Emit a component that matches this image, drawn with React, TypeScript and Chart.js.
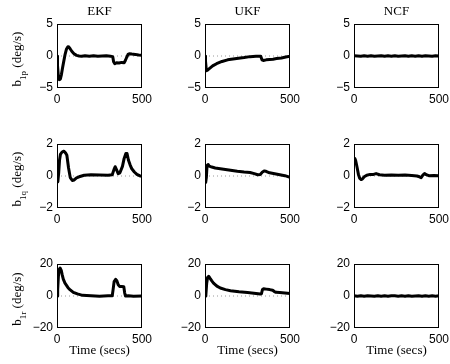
import React, { useEffect, useRef } from "react";
import { Chart, registerables } from "chart.js";

Chart.register(...registerables);

// ---------- data ----------
const filterNames = ["EKF", "UKF", "NCF"];
const biasSubscripts = ["1p", "1q", "1r"];
const yLimits = [5, 2, 20];
const xRange = [0, 500];
const xLabel = "Time (secs)";
const yUnit = " (deg/s)";

// reference (true bias = 0)
const trueT = [0, 500];
const trueV = [0, 0];

// b_1p
const ekfPT = [0, 3, 8, 14, 20, 26, 33, 40, 48, 56, 64, 70, 78, 88, 100, 115, 130, 145, 165, 190, 215, 240, 265, 290, 315, 328, 333, 340, 350, 365, 380, 395, 402, 410, 418, 425, 440, 460, 480, 500];
const ekfPV = [0, -1.5, -3.2, -3.7, -3.6, -2.9, -1.8, -0.8, 0.3, 1.1, 1.45, 1.4, 1.1, 0.7, 0.35, 0.1, 0.0, -0.05, 0.05, -0.05, 0.05, -0.05, 0.0, 0.05, -0.05, -0.1, -0.9, -1.2, -1.05, -1.1, -1.0, -1.05, -0.7, -0.2, 0.25, 0.35, 0.3, 0.25, 0.15, 0.1];
const ukfPT = [0, 3, 8, 15, 29, 45, 68, 100, 133, 186, 230, 265, 300, 328, 335, 343, 360, 380, 400, 421, 450, 475, 500];
const ukfPV = [0, -0.8, -2.3, -2.2, -1.9, -1.55, -1.2, -0.85, -0.6, -0.4, -0.25, -0.1, -0.05, -0.05, -0.6, -0.7, -0.6, -0.55, -0.5, -0.4, -0.3, -0.15, -0.05];
const ncfPT = [0, 20, 40, 60, 80, 100, 120, 140, 160, 180, 200, 220, 240, 260, 280, 300, 320, 340, 360, 380, 400, 420, 440, 460, 480, 500];
const ncfPV = [0.05, 0.0, -0.05, 0.03, -0.03, 0.05, -0.04, 0.0, 0.04, -0.05, 0.03, -0.03, 0.05, -0.03, 0.0, 0.04, -0.05, 0.03, -0.03, 0.05, -0.04, 0.03, 0.0, -0.05, 0.03, 0.0];

// b_1q
const ekfQT = [0, 5, 10, 15, 20, 30, 40, 50, 58, 68, 78, 90, 100, 115, 130, 160, 200, 250, 300, 325, 335, 342, 350, 360, 370, 385, 395, 405, 412, 420, 430, 440, 455, 470, 485, 500];
const ekfQV = [-0.3, -0.35, 0.2, 1.0, 1.35, 1.5, 1.55, 1.45, 1.3, 0.5, -0.1, -0.28, -0.25, -0.12, -0.05, 0.05, 0.08, 0.07, 0.05, 0.08, 0.4, 0.58, 0.4, 0.15, 0.2, 0.6, 1.1, 1.4, 1.4, 1.0, 0.7, 0.45, 0.25, 0.1, 0.02, -0.02];
const ukfQT = [0, 4, 8, 12, 18, 25, 40, 60, 80, 110, 150, 190, 230, 265, 290, 310, 325, 338, 350, 362, 380, 410, 440, 470, 500];
const ukfQV = [-0.2, -0.4, -0.1, 0.65, 0.72, 0.62, 0.56, 0.5, 0.47, 0.42, 0.36, 0.3, 0.25, 0.22, 0.15, 0.08, 0.1, 0.25, 0.32, 0.28, 0.2, 0.14, 0.08, 0.02, -0.08];
const ncfQT = [0, 5, 10, 18, 26, 34, 42, 50, 60, 75, 95, 115, 130, 150, 180, 220, 260, 300, 340, 370, 385, 395, 405, 415, 425, 440, 470, 500];
const ncfQV = [1.0, 1.1, 0.95, 0.55, 0.1, -0.15, -0.22, -0.18, -0.05, 0.05, 0.1, 0.1, 0.15, 0.08, 0.05, 0.07, 0.04, 0.06, 0.03, 0.0, -0.05, -0.1, 0.05, 0.15, 0.08, 0.02, 0.03, 0.02];

// b_1r
const ekfRT = [0, 4, 8, 12, 18, 25, 30, 37, 47, 57, 66, 76, 96, 120, 150, 200, 250, 300, 325, 330, 336, 345, 352, 360, 368, 380, 393, 398, 403, 420, 450, 500];
const ekfRV = [0, 4, 12, 16.5, 17.5, 16, 13.5, 10.5, 8, 6.5, 5, 4, 2.3, 1.3, 0.4, 0.2, -0.2, 0.1, 0.2, 4, 9, 10.4, 9.5, 7, 6, 6, 5.8, 2, 0, 0.2, -0.1, 0];
const ukfRT = [0, 5, 10, 15, 22, 30, 40, 50, 70, 90, 120, 150, 200, 250, 300, 325, 332, 338, 345, 360, 380, 398, 408, 418, 440, 470, 500];
const ukfRV = [0, 0.5, 8, 11.5, 12.3, 11, 9.5, 8.1, 6.2, 5, 4, 3.3, 2.6, 2.2, 1.6, 1.2, 1.4, 4, 4.5, 4.3, 4.0, 3.6, 2.8, 2.3, 2.2, 1.9, 1.6];
const ncfRT = [0, 20, 40, 60, 80, 100, 120, 140, 160, 180, 200, 220, 240, 260, 280, 300, 320, 340, 360, 380, 400, 420, 440, 460, 480, 500];
const ncfRV = [0.2, -0.1, 0.1, -0.2, 0.1, 0, -0.1, 0.2, -0.1, 0.1, -0.2, 0.1, 0.1, -0.1, 0.1, -0.1, 0.2, -0.1, 0.0, 0.1, -0.2, 0.1, -0.1, 0.1, -0.1, 0.1];

const seriesT = [
  [ekfPT, ukfPT, ncfPT],
  [ekfQT, ukfQT, ncfQT],
  [ekfRT, ukfRT, ncfRT],
];
const seriesV = [
  [ekfPV, ukfPV, ncfPV],
  [ekfQV, ukfQV, ncfQV],
  [ekfRV, ukfRV, ncfRV],
];

// ---------- layout ----------
const BOX_LEFT = [57, 205, 354];
const BOX_TOP = [24, 144, 264];
const BOX_W = 85;
const BOX_H = 64;
const PAD_T = 24;
const PAD_R = 15;

const TICK_FONT = { family: '"Liberation Sans", Arial, sans-serif', size: 12 };
const SERIF = '"Liberation Serif", "Times New Roman", serif';

const toXY = (t: number[], v: number[]) => t.map((x, i) => ({ x, y: v[i] }));
const fmt = (v: number) => (v < 0 ? "\u2212" + Math.abs(v) : String(v));

const decorPlugin = {
  id: "decor",
  afterDraw(chart: any, _args: any, opts: any) {
    const { ctx, chartArea } = chart;
    const { left, right, top, bottom } = chartArea;
    ctx.save();
    ctx.strokeStyle = "#000";
    ctx.lineWidth = 1;
    ctx.strokeRect(left + 0.5, top + 0.5, right - left - 1, bottom - top - 1);
    ctx.fillStyle = "#000";
    if (opts.title) {
      ctx.font = `13px ${SERIF}`;
      ctx.textAlign = "center";
      ctx.textBaseline = "middle";
      ctx.fillText(opts.title, (left + right) / 2, top - 12);
    }
    if (opts.sub) {
      const cy = (top + bottom) / 2 + 3;
      ctx.translate(opts.labelX, cy);
      ctx.rotate(-Math.PI / 2);
      ctx.textAlign = "left";
      ctx.textBaseline = "alphabetic";
      const big = `13px ${SERIF}`;
      const small = `9px ${SERIF}`;
      ctx.font = big;
      const wb = ctx.measureText("b").width;
      const wu = ctx.measureText(yUnit).width;
      ctx.font = small;
      const ws = ctx.measureText(opts.sub).width;
      let x = -(wb + ws + wu) / 2;
      ctx.font = big;
      ctx.fillText("b", x, 0);
      x += wb;
      ctx.font = small;
      ctx.fillText(opts.sub, x, 5);
      x += ws;
      ctx.font = big;
      ctx.fillText(yUnit, x, 0);
    }
    ctx.restore();
  },
};

function Panel({ row, col }: { row: number; col: number }) {
  const ref = useRef<HTMLCanvasElement | null>(null);
  const leftW = col === 0 ? BOX_LEFT[0] : 40;
  const bottomH = row === 2 ? 36 : 20;
  const cLeft = BOX_LEFT[col] - leftW;
  const cTop = BOX_TOP[row] - PAD_T;
  const width = leftW + BOX_W + PAD_R;
  const height = PAD_T + BOX_H + bottomH;

  useEffect(() => {
    if (!ref.current) return;
    const lim = yLimits[row];
    const chart = new Chart(ref.current, {
      type: "line",
      data: {
        datasets: [
          {
            data: toXY(seriesT[row][col], seriesV[row][col]),
            borderColor: "#000",
            borderWidth: 3,
            pointRadius: 0,
            tension: 0,
            borderJoinStyle: "round",
            borderCapStyle: "round",
            fill: false,
          },
          {
            data: toXY(trueT, trueV),
            borderColor: "#9a9a9a",
            borderWidth: 1,
            borderDash: [1, 3],
            pointRadius: 0,
            tension: 0,
            fill: false,
          },
        ],
      },
      options: {
        responsive: false,
        animation: false,
        events: [],
        layout: { padding: { top: PAD_T, right: PAD_R, left: 0, bottom: 0 } },
        plugins: {
          legend: { display: false },
          tooltip: { enabled: false },
          decor: {
            title: row === 0 ? filterNames[col] : null,
            sub: col === 0 ? biasSubscripts[row] : null,
            labelX: 21,
          },
        } as any,
        scales: {
          x: {
            type: "linear",
            min: xRange[0],
            max: xRange[1],
            grid: { display: false, drawTicks: false },
            border: { display: false },
            ticks: {
              stepSize: 500,
              font: TICK_FONT,
              color: "#000",
              padding: 4,
              maxRotation: 0,
              autoSkip: false,
              callback: (v: any) => fmt(Number(v)),
            },
            title: {
              display: row === 2,
              text: xLabel,
              color: "#000",
              font: { family: SERIF, size: 13 },
              padding: { top: 0, bottom: 6 },
            },
            afterFit: (s: any) => {
              s.height = bottomH;
            },
          },
          y: {
            type: "linear",
            min: -lim,
            max: lim,
            grid: { display: false, drawTicks: false },
            border: { display: false },
            ticks: {
              stepSize: lim,
              font: TICK_FONT,
              color: "#000",
              padding: 4,
              callback: (v: any) => fmt(Number(v)),
            },
            afterFit: (s: any) => {
              s.width = leftW;
            },
          },
        },
      },
      plugins: [decorPlugin],
    } as any);
    return () => chart.destroy();
  }, [row, col]);

  return (
    <canvas
      ref={ref}
      width={width}
      height={height}
      style={{ position: "absolute", left: cLeft, top: cTop, width, height, display: "block" }}
    />
  );
}

export default function App() {
  const cells: React.ReactNode[] = [];
  for (let r = 0; r < 3; r++) {
    for (let c = 0; c < 3; c++) {
      cells.push(<Panel key={`${r}-${c}`} row={r} col={c} />);
    }
  }
  return (
    <div
      style={{
        position: "fixed",
        left: 0,
        top: 0,
        width: 450,
        height: 364,
        background: "#fff",
        overflow: "hidden",
      }}
    >
      {cells}
    </div>
  );
}
